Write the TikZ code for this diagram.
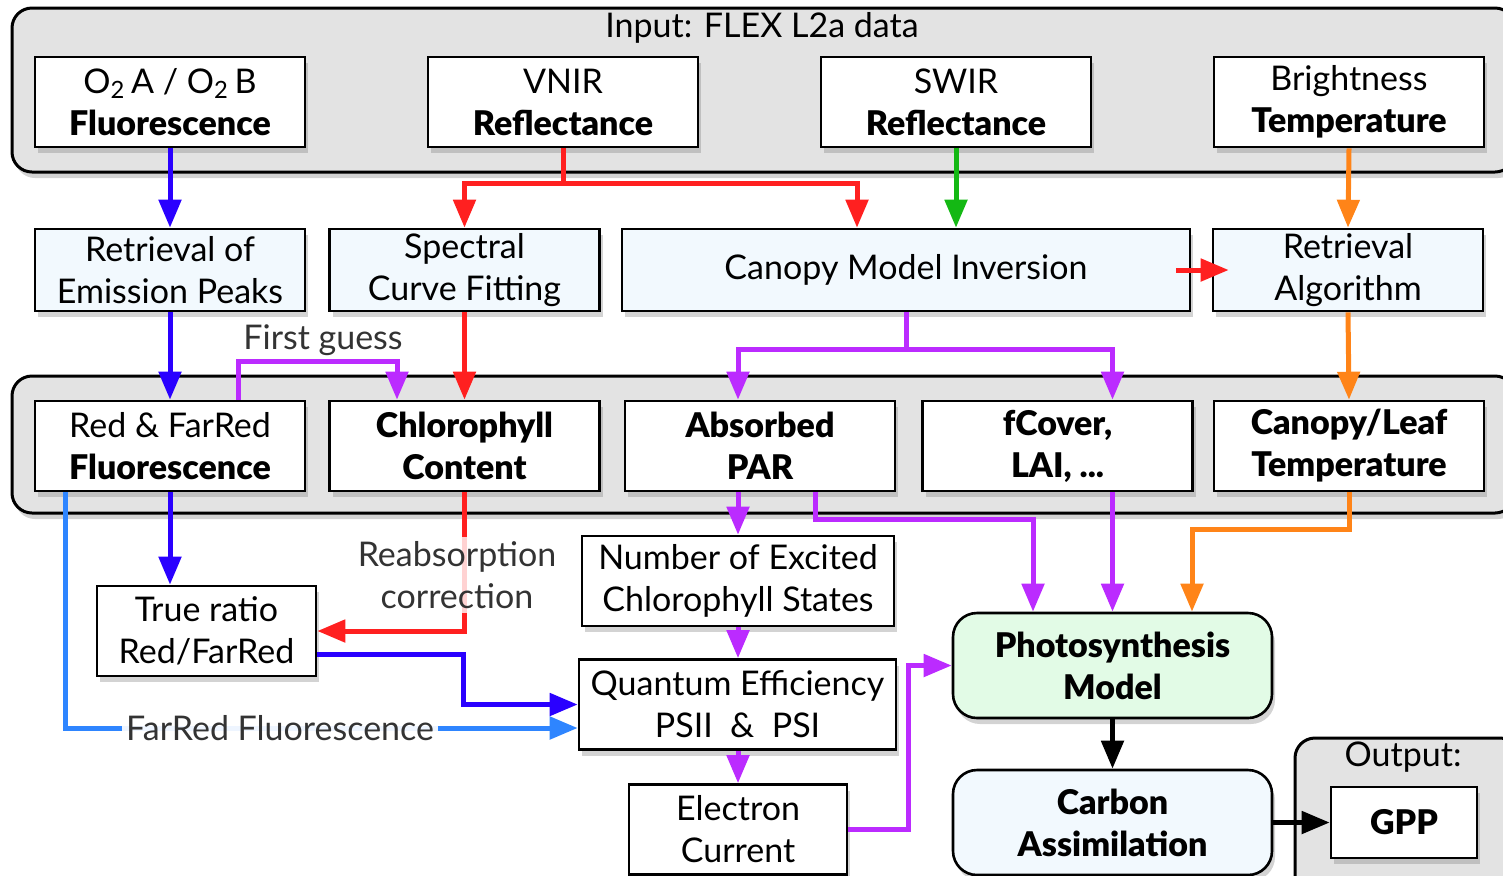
\documentclass[tikz,border=0pt]{standalone}
\usepackage{fontspec}
\setmainfont{Lato}[BoldFont={Lato Black}]
\usetikzlibrary{arrows.meta,calc,shadows}
\definecolor{bandgray}{HTML}{E3E3E3}
\definecolor{paleblue}{HTML}{F2F9FE}
\definecolor{palegreen}{HTML}{E2FBE6}
\definecolor{fluoblue}{HTML}{2A00FF}
\definecolor{skyblue}{HTML}{2E85FF}
\definecolor{vnirred}{HTML}{FF2020}
\definecolor{swirgreen}{HTML}{14B814}
\definecolor{tempor}{HTML}{FF8418}
\definecolor{modpurple}{HTML}{BB2BFF}

\begin{document}
\begin{tikzpicture}[x=0.5pt,y=-0.5pt,
	every node/.style={font=\fontsize{17}{21}\selectfont},
	band/.style={draw=black,line width=1.5pt,fill=bandgray,rounded corners=10pt,
		drop shadow={shadow xshift=1.5pt,shadow yshift=-3pt,opacity=0.35}},
	box/.style={draw=black,line width=1.3pt,fill=white,align=center,inner sep=0pt,
		minimum width=135pt,minimum height=45pt,
		drop shadow={shadow xshift=1.5pt,shadow yshift=-3pt,opacity=0.35}},
	procbox/.style={box,fill=paleblue,minimum height=41pt},
	resbox/.style={box,font=\fontsize{17}{21}\selectfont\bfseries},
	modelbox/.style={box,rounded corners=12pt,minimum width=159.5pt,minimum height=52.5pt,
		font=\fontsize{17}{21}\selectfont\bfseries},
	link/.style={line width=2.5pt,-{Triangle[length=14pt,width=11pt]}},
	note/.style={text=black!80,align=center,inner sep=2pt}
]
	\useasboundingbox (0,0) rectangle (1503,875);

	\draw[band] (12,8) rectangle (1515,172);
	\draw[band] (12,376) rectangle (1515,513);
	\draw[band] (1295,738) rectangle (1520,900);

	\node (intitle) at (762,28) {Input: FLEX L2a data};
	\node (outtitle) at (1403,757) {Output:};

	\foreach \n/\x/\a/\b in {
		fluo/170/{O\textsubscript{2}\,A / O\textsubscript{2}\,B}/Fluorescence,
		vnir/563/VNIR/Reflectance,
		swir/956/SWIR/Reflectance,
		bright/1349/Brightness/Temperature
	}
	{
		\node[box] (\n) at (\x,102) {\a\\\textbf{\b}};
	}

	\node[procbox] (emis) at (170,270) {Retrieval of\\Emission Peaks};
	\node[procbox] (spec) at (464.5,270) {Spectral\\Curve Fitting};
	\node[procbox,minimum width=284pt] (cmi) at (906,270) {Canopy Model Inversion};
	\node[procbox] (ralg) at (1348,270) {Retrieval\\Algorithm};

	\node[box] (rff) at (170,446) {Red \& FarRed\\\textbf{Fluorescence}};
	\node[resbox] (chl) at (464.5,446) {Chlorophyll\\Content};
	\node[resbox] (apar) at (760,446) {Absorbed\\PAR};
	\node[resbox] (fcov) at (1057.5,446) {fCover,\\LAI, ...};
	\node[resbox] (clt) at (1349,446) {Canopy/Leaf\\Temperature};

	\node[box,minimum width=109.5pt] (ratio) at (206.5,631) {True ratio\\Red/FarRed};
	\node[box,minimum width=156pt] (nexc) at (738,581) {Number of Excited\\Chlorophyll States};
	\node[box,minimum width=158.5pt] (qeff) at (737.5,704.5) {Quantum Efficiency\\PSII\ \ \&\ \ PSI};
	\node[box,minimum width=109pt] (elec) at (738,829.5) {Electron\\Current};

	\node[modelbox,fill=palegreen] (photo) at (1112.5,665.5) {Photosynthesis\\Model};
	\node[modelbox,fill=paleblue] (carb) at (1112.5,822.5) {Carbon\\Assimilation};
	\node[resbox,minimum width=73pt,minimum height=35.5pt] (gpp) at (1404,822.5) {GPP};

	\draw[link,fluoblue] (fluo.south) -- (emis.north);
	\draw[link,fluoblue] (emis.south) -- (rff.north);
	\draw[link,fluoblue] (rff.south) -- (rff.south |- ratio.north);
	\draw[link,fluoblue] ($(ratio.east)+(0,23)$) -| ($(qeff.west)+(-114,0)$) -- (qeff.west);

	\draw[link,vnirred] (vnir.south) |- ($(spec.north)+(0,-44)$) -- (spec.north);
	\draw[link,vnirred] (vnir.south) |- ($(cmi.north)+(-49,-44)$) -- ($(cmi.north)+(-49,0)$);
	\draw[link,vnirred] (spec.south) -- (chl.north);
	\draw[link,vnirred] (chl.south) |- (ratio.east);
	\draw[link,vnirred] ($(cmi.east)+(-15,0)$) -- ($(ralg.west)+(17,0)$);

	\draw[link,swirgreen] (swir.south) -- (swir.south |- cmi.north);

	\draw[link,tempor] (bright.south) -- (ralg.north);
	\draw[link,tempor] (ralg.south) -- (clt.north);
	\draw[link,tempor] (clt.south) -- ++(0,37) -| ($(photo.north)+(79.5,0)$);

	\draw[link,modpurple] (cmi.south) -- ++(0,37) -| (nexc.north |- apar.north);
	\draw[link,modpurple] (cmi.south) -- ++(0,37) -| (photo.north |- fcov.north);
	\draw[link,modpurple] ($(rff.north)+(68,0)$) -- ++(0,-38) -| ($(chl.north)+(-67.5,0)$);
	\draw[link,modpurple] (nexc.north |- apar.south) -- (nexc.north);
	\draw[link,modpurple] ($(apar.south)+(55,0)$) -- ++(0,27) -| ($(photo.north)+(-79.5,0)$);
	\draw[link,modpurple] (photo.north |- fcov.south) -- (photo.north);
	\draw[link,modpurple] (nexc.south) -- (nexc.south |- qeff.north);
	\draw[link,modpurple] (qeff.south -| elec.north) -- (elec.north);
	\draw[link,modpurple] (elec.east) -| ($(photo.west)+(-43,0)$) -- (photo.west);

	\draw[link,skyblue] ($(rff.south)+(-105,0)$) |- ($(qeff.west)+(0,23.5)$);

	\draw[link,black] (photo.south) -- (carb.north);
	\draw[link,black] (carb.east) -- (gpp.west);

	\node[note] (guess) at (323,340) {First guess};
	\node[note,fill=white,fill opacity=0.8,text opacity=1] (reabs) at (457,575) {Reabsorption\\correction};
	\node[note,fill=white,fill opacity=0.92,text opacity=1] (farred) at (280,728) {FarRed Fluorescence};
\end{tikzpicture}
\end{document}
